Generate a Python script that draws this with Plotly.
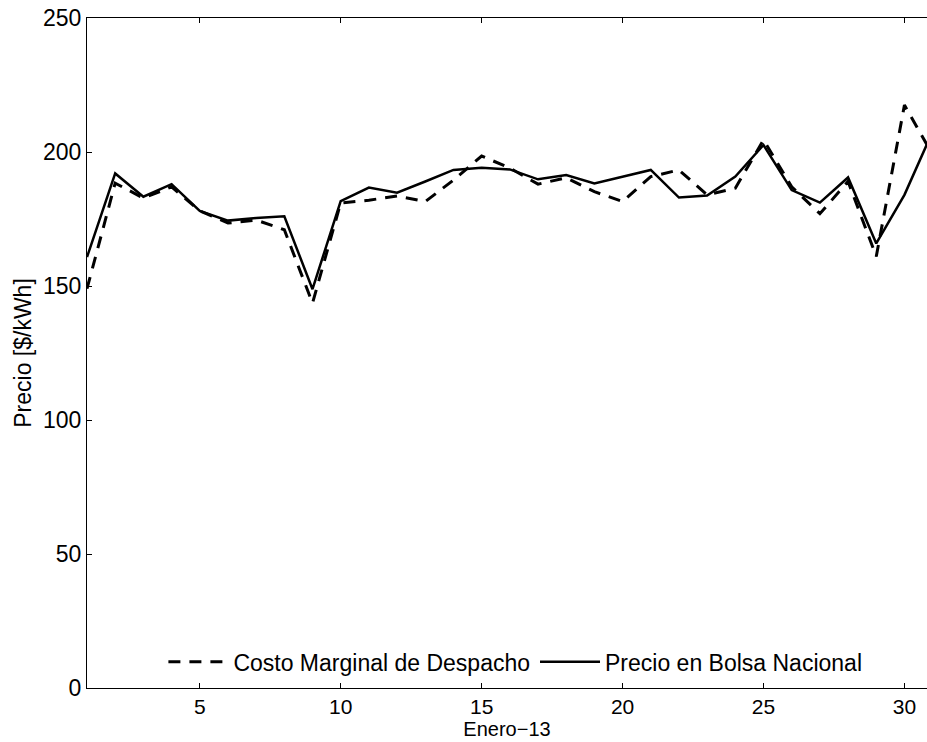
import plotly.graph_objects as go

days = list(range(1, 32))
costo_marginal = [149, 188.4, 182.8, 187, 178, 173.5, 174.6, 171, 143.6, 181,
                  182, 183.6, 181.5, 189.5, 198.5, 194, 188, 190.4, 185.2, 181.5,
                  190.8, 193.3, 184, 186.5, 204.5, 187, 177, 189, 161, 217.5, 199]
precio_bolsa = [160.8, 192, 183.3, 188, 178, 174.4, 175.4, 176, 148.8, 181.7,
                186.7, 184.8, 189, 193.3, 194.1, 193.5, 189.8, 191.4, 188.3, 190.8,
                193.3, 183, 183.8, 190.8, 202.6, 185.8, 181.1, 190.5, 165.9, 184, 207.7]
x_ticks = [5, 10, 15, 20, 25, 30]
y_ticks = [0, 50, 100, 150, 200, 250]

FONT = "Liberation Sans, Arial, sans-serif"
FS = 23

fig = go.Figure()
fig.add_trace(go.Scatter(x=days, y=costo_marginal, mode="lines",
                         name="Costo Marginal de Despacho",
                         line=dict(color="black", width=3, dash="12px,9px")))
fig.add_trace(go.Scatter(x=days, y=precio_bolsa, mode="lines",
                         name="Precio en Bolsa Nacional",
                         line=dict(color="black", width=2.5)))

fig.update_layout(
    width=927, height=742,
    margin=dict(l=87, r=0, t=18, b=54),
    paper_bgcolor="white", plot_bgcolor="white",
    font=dict(family=FONT, size=FS, color="black"),
    showlegend=True,
    legend=dict(orientation="h", x=0.51, xanchor="center", y=0.039, yanchor="middle",
                bgcolor="rgba(0,0,0,0)", font=dict(size=FS), itemwidth=60,
                tracegroupgap=0),
    xaxis=dict(range=[1, 30.8], tickvals=x_ticks, ticks="inside", ticklen=5,
               tickcolor="black", showline=True, linecolor="black", linewidth=1,
               mirror="ticks", showgrid=False, zeroline=False,
               title=dict(text="Enero−13", standoff=0, font=dict(size=20)),
               tickfont=dict(size=21)),
    yaxis=dict(range=[0, 250], tickvals=y_ticks, ticks="inside", ticklen=5,
               tickcolor="black", showline=True, linecolor="black", linewidth=1,
               mirror=False, showgrid=False, zeroline=False,
               title=dict(text="Precio [$/kWh]", standoff=4, font=dict(size=FS)),
               tickfont=dict(size=FS)),
)

fig.write_html("out.html")
